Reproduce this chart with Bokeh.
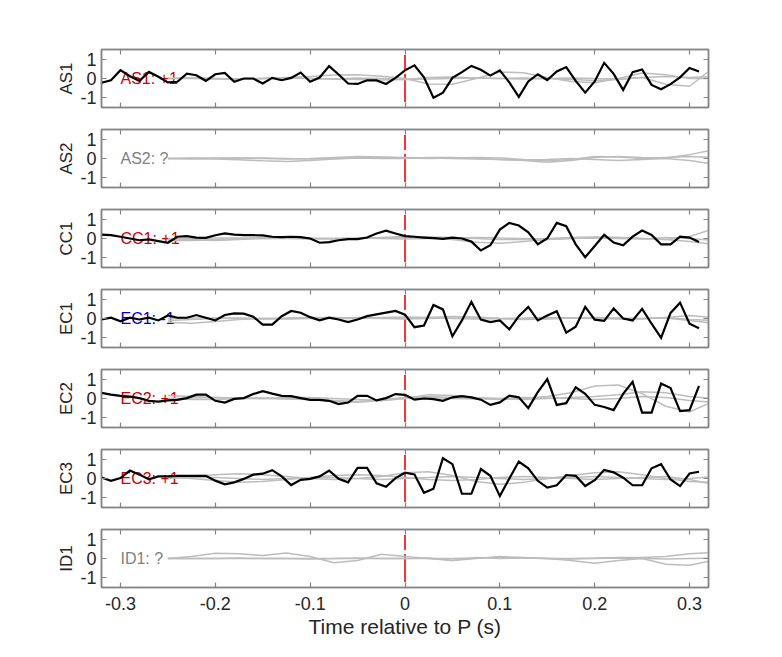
import numpy as np
from bokeh.plotting import figure
from bokeh.layouts import column
from bokeh.models import LinearAxis, FixedTicker, Range1d
from bokeh.core.properties import value
from bokeh.embed import file_html
from bokeh.resources import INLINE

# ---------------- data ----------------
stations = ["AS1", "AS2", "CC1", "EC1", "EC2", "EC3", "ID1"]
polarity_text = ["AS1: +1", "AS2: ?", "CC1: +1", "EC1: -1", "EC2: +1", "EC3: +1", "ID1: ?"]
polarity_color = ["#cc0000", "#808080", "#cc0000", "#0000cc", "#cc0000", "#cc0000", "#808080"]

x_ticks = [-0.3, -0.2, -0.1, 0.0, 0.1, 0.2, 0.3]
x_tick_labels = ["-0.3", "-0.2", "-0.1", "0", "0.1", "0.2", "0.3"]
y_ticks = [-1, 0, 1]
y_tick_labels = ["-1", "0", "1"]

p_time = 0.0          # P arrival
label_time = -0.3     # where the polarity text starts
marker_half = 1.22    # half height of the P marker

# sample times
t_black = np.round(-0.32 + 0.01 * np.arange(64), 2)
t_gray = np.round(-0.25 + 0.025 * np.arange(24), 3)

as1_black = [-0.22, -0.09, 0.43, 0.12, -0.12, 0.34, 0.09, -0.2, -0.17, 0.25,
             0.17, -0.12, 0.22, 0.29, -0.17, 0.0, 0.0, -0.26, 0.03, -0.09,
             0.03, 0.31, -0.17, 0.05, 0.64, 0.21, -0.26, -0.28, -0.09, -0.1,
             -0.28, 0.03, 0.42, 0.68, 0.06, -1.0, -0.73, 0.03, 0.33, 0.65,
             0.45, 0.15, 0.42, -0.2, -0.95, -0.15, 0.22, -0.08, 0.36, 0.59,
             -0.12, -0.73, -0.15, 0.81, 0.24, -0.59, 0.33, 0.47, -0.33, -0.56,
             -0.29, 0.06, 0.54, 0.36]
cc1_black = [0.2, 0.17, 0.09, 0.0, -0.09, -0.05, -0.14, -0.22, 0.09, 0.12,
             0.05, 0.03, 0.17, 0.26, 0.2, 0.17, 0.17, 0.16, 0.09, 0.07,
             0.09, 0.07, 0.0, -0.22, -0.19, -0.09, -0.03, -0.03, 0.05, 0.26,
             0.4, 0.26, 0.12, 0.09, 0.05, 0.02, -0.02, 0.04, 0.0, -0.16,
             -0.62, -0.35, 0.46, 0.81, 0.67, 0.32, -0.3, 0.0, 0.81, 0.64,
             -0.3, -0.97, -0.39, 0.19, -0.21, -0.35, 0.1, 0.41, 0.18, -0.3,
             -0.3, 0.1, 0.05, -0.18]
ec1_black = [-0.05, 0.04, -0.14, 0.04, -0.05, 0.04, -0.1, 0.16, 0.04, 0.04,
             0.18, 0.04, -0.1, 0.18, 0.26, 0.25, 0.09, -0.32, -0.32, 0.12,
             0.39, 0.3, 0.07, -0.09, 0.04, -0.05, -0.19, -0.05, 0.12, 0.21,
             0.3, 0.39, 0.2, -0.45, -0.36, 0.7, 0.47, -0.92, -0.1, 0.86,
             -0.06, -0.19, -0.1, -0.56, 0.12, 0.6, -0.1, 0.15, 0.38, -0.73,
             -0.42, 0.6, -0.06, -0.12, 0.52, 0.0, -0.1, 0.5, -0.27, -1.0,
             0.29, 0.82, -0.27, -0.5]
ec2_black = [0.29, 0.2, 0.14, 0.1, 0.02, -0.12, -0.16, -0.1, -0.07, 0.02,
             0.2, 0.2, -0.12, -0.21, -0.02, 0.02, 0.23, 0.38, 0.25, 0.14,
             0.12, 0.02, -0.07, -0.07, -0.12, -0.29, -0.21, 0.14, 0.14, -0.1,
             0.02, 0.23, 0.19, -0.06, 0.0, -0.03, -0.12, 0.06, 0.12, 0.06,
             -0.06, -0.33, -0.2, 0.15, 0.06, -0.5, 0.33, 1.0, -0.33, -0.24,
             0.58, 0.24, -0.33, -0.44, -0.6, 0.24, 0.86, -0.73, -0.73, 0.77,
             0.54, -0.65, -0.6, 0.65]
ec3_black = [0.05, -0.12, 0.02, 0.41, 0.2, -0.04, 0.11, 0.11, 0.14, 0.14,
             0.14, 0.14, -0.11, -0.3, -0.2, -0.02, 0.2, 0.25, 0.43, 0.11,
             -0.34, -0.07, -0.02, 0.11, 0.41, -0.02, -0.2, 0.55, 0.55, -0.25,
             -0.43, 0.02, 0.3, 0.21, -0.74, -0.53, 1.05, 0.74, -0.79, -0.79,
             0.49, 0.14, -0.91, 0.0, 0.88, 0.53, -0.12, -0.47, -0.35, 0.18,
             0.14, -0.39, -0.09, 0.44, 0.32, 0.04, -0.35, -0.35, 0.53, 0.74,
             -0.05, -0.39, 0.26, 0.35]

# gray reference traces (sampled every 0.025 s from -0.25 s)
as1_gray1 = [0, 0, -0.03, -0.05, 0, 0.05, 0.1, 0.18, 0.2, 0.12, 0, -0.28, -0.3, 0.0,
             0.33, 0.3, 0.05, -0.15, -0.22, 0.0, 0.28, 0.2, 0.0, 0.0]
as1_gray2 = [0, 0.02, 0, -0.02, 0, 0.02, 0, -0.02, 0.03, 0.0, -0.05, -0.02, 0, 0.02,
             0, -0.02, 0, 0.03, 0, -0.02, 0.05, -0.3, -0.4, 0.55]
as1_gray3 = [0, 0.03, 0, -0.03, 0, 0.03, 0, -0.03, -0.05, -0.08, -0.05, 0.05, 0.08, 0.03,
             0, 0.03, 0, -0.05, -0.1, -0.05, 0.05, 0.1, 0.05, 0.1]
as2_gray1 = [0, 0, -0.02, -0.06, -0.12, -0.15, -0.1, -0.03, 0.03, 0.06, 0.05, 0.02,
             0.0, -0.03, -0.05, -0.1, -0.2, -0.1, 0.05, 0.1, 0.05, 0.02, 0.2, 0.45]
as2_gray2 = [0, 0.02, 0.03, 0.02, 0, -0.02, 0, 0.05, 0.1, 0.08, 0.03, 0, 0.02, 0.05,
             0.03, -0.05, -0.12, -0.05, 0.1, 0.08, 0, 0.05, 0.1, 0.05]
as2_gray3 = [0, -0.02, 0, 0.02, 0.03, 0, -0.03, 0, 0.02, 0, 0, 0.05, 0.05, 0, -0.05,
             -0.08, -0.05, 0, -0.05, -0.1, -0.05, 0, -0.1, -0.3]
cc1_gray1 = [-0.1, -0.1, -0.05, 0, 0.05, 0.05, 0.02, 0, 0, 0.05, 0.1, 0.05, -0.05,
             -0.2, -0.25, -0.15, -0.05, 0, 0.05, 0.05, 0, -0.05, 0.1, 0.5]
cc1_gray2 = [0, -0.05, -0.1, -0.05, 0, 0.02, 0, -0.03, 0, 0.03, 0.05, 0.08, 0.05, 0,
             -0.05, -0.05, 0, 0.05, 0.08, 0.05, 0, -0.05, -0.15, -0.3]
cc1_gray3 = [-0.05, 0, 0.03, 0.02, 0, 0, -0.02, 0, 0.02, 0, -0.02, 0, 0.02, 0.05,
             0.02, 0, -0.02, 0, 0.02, 0, -0.02, 0.05, 0, -0.1]
ec1_gray1 = [-0.2, -0.25, -0.15, -0.05, 0, 0.02, 0.05, 0.05, 0.02, 0, 0, 0.05, 0.1,
             0.08, 0, -0.05, -0.02, 0.02, 0.05, 0.03, 0, 0.02, -0.1, -0.25]
ec1_gray2 = [-0.1, -0.05, 0, 0.03, 0, -0.03, 0, 0.03, 0.05, 0.02, -0.02, 0, 0.02,
             0.03, 0, -0.02, 0, 0.02, 0, -0.02, 0, 0.05, -0.05, -0.1]
ec1_gray3 = [0, 0.02, 0.03, 0, -0.02, 0, 0.02, 0, 0, 0.05, 0.08, 0.05, 0, -0.03, 0,
             0.02, 0.05, 0.03, 0.02, 0, -0.03, 0.05, 0.15, 0.05]
ec2_gray1 = [0, 0.02, 0.05, 0.03, 0, -0.03, -0.05, -0.1, -0.15, -0.05, 0.05, 0.1,
             0.05, 0, -0.05, 0, 0.1, 0.3, 0.65, 0.7, 0.25, -0.4, -0.7, -0.15]
ec2_gray2 = [0.15, 0.1, 0.05, 0, 0, 0.05, 0.05, 0, -0.05, -0.1, 0, 0.2, 0.15, 0.05,
             0, -0.05, 0, 0.05, 0.1, 0.2, 0.35, 0.3, 0.1, 0]
ec2_gray3 = [0, -0.05, -0.05, 0, 0.02, 0, -0.05, -0.15, -0.2, -0.1, 0, 0.05, 0,
             -0.02, 0, 0.05, 0.02, 0, -0.05, 0, 0.1, 0.05, -0.1, -0.2]
ec3_gray1 = [0.05, 0.1, 0.2, 0.25, 0.2, 0.1, 0, -0.05, 0, 0.1, 0.3, 0.35, 0.15, -0.15,
             -0.3, -0.2, 0, 0.15, 0.3, 0.35, 0.2, 0, -0.15, -0.2]
ec3_gray2 = [0.1, 0, -0.1, -0.2, -0.15, -0.05, 0.05, 0.15, 0.2, 0.15, 0.05, -0.05,
             -0.1, -0.05, 0.05, 0.1, 0.05, 0, -0.05, 0, 0.05, 0.1, -0.05, -0.3]
ec3_gray3 = [0, 0.05, 0.05, 0, -0.05, 0, 0.05, 0.05, 0, -0.05, 0, 0.05, 0.1, 0.05, 0,
             -0.05, 0, 0.05, 0.1, 0.05, 0, -0.05, 0, 0.1]
id1_gray1 = [0, 0.1, 0.27, 0.25, 0.15, 0.28, 0.1, -0.22, -0.1, 0.22, 0.1, 0, -0.1,
             0.05, 0, 0.02, 0, -0.02, 0, 0.02, 0, -0.02, 0, 0.02]
id1_gray2 = [0, 0, 0, 0.02, 0, 0, -0.02, 0, 0.03, 0, 0, 0.02, -0.1, 0, 0.1, 0.05, 0,
             -0.1, -0.25, -0.1, 0, -0.3, -0.35, -0.1]
id1_gray3 = [0, 0, 0, 0, 0, 0, 0, 0, 0, 0, 0, 0, 0, 0.03, 0.05, 0.03, 0, 0, 0.02,
             0.05, 0.05, 0.1, 0.25, 0.3]

black_traces = {"AS1": as1_black, "AS2": None, "CC1": cc1_black, "EC1": ec1_black,
                "EC2": ec2_black, "EC3": ec3_black, "ID1": None}
gray_traces = {
    "AS1": [as1_gray1, as1_gray2, as1_gray3],
    "AS2": [as2_gray1, as2_gray2, as2_gray3],
    "CC1": [cc1_gray1, cc1_gray2, cc1_gray3],
    "EC1": [ec1_gray1, ec1_gray2, ec1_gray3],
    "EC2": [ec2_gray1, ec2_gray2, ec2_gray3],
    "EC3": [ec3_gray1, ec3_gray2, ec3_gray3],
    "ID1": [id1_gray1, id1_gray2, id1_gray3],
}

# ---------------- style ----------------
FONT = "Liberation Sans"
AX = "#868686"
TXT = "#262626"


def style_axis(ax, ticks, labels, show_labels):
    ax.ticker = FixedTicker(ticks=ticks)
    ax.major_tick_in = 5
    ax.major_tick_out = 0
    ax.minor_tick_line_color = None
    ax.axis_line_color = AX
    ax.axis_line_width = 1.5
    ax.major_tick_line_color = AX
    ax.major_tick_line_width = 1.2
    ax.major_label_text_font = FONT
    if show_labels:
        ax.major_label_overrides = {t: l for t, l in zip(ticks, labels)}
        ax.major_label_text_color = TXT
        ax.major_label_text_font_size = "18px"
        ax.major_label_standoff = 5
    else:
        ax.major_label_text_color = None
        ax.major_label_text_font_size = "1px"
        ax.major_label_standoff = 0


figs = []
n = len(stations)
for i, st in enumerate(stations):
    first = i == 0
    last = i == n - 1
    p = figure(frame_width=607, frame_height=58,
               x_range=Range1d(-0.32, 0.32), y_range=Range1d(-1.5, 1.5),
               output_backend="svg", toolbar_location=None,
               min_border_left=101, min_border_right=40,
               min_border_top=49 if first else 11,
               min_border_bottom=64 if last else 11)
    p.grid.visible = False
    p.outline_line_color = AX
    p.outline_line_width = 1.5
    p.background_fill_color = "white"
    p.border_fill_color = "white"

    style_axis(p.xaxis[0], x_ticks, x_tick_labels, last)
    style_axis(p.yaxis[0], y_ticks, y_tick_labels, True)
    p.yaxis[0].axis_label = st
    p.yaxis[0].axis_label_text_font = FONT
    p.yaxis[0].axis_label_text_font_size = "17px"
    p.yaxis[0].axis_label_text_font_style = "normal"
    p.yaxis[0].axis_label_text_color = TXT
    p.yaxis[0].axis_label_standoff = 1
    if last:
        xa = p.xaxis[0]
        xa.major_label_standoff = 9
        xa.axis_label = "Time relative to P (s)"
        xa.axis_label_text_font = FONT
        xa.axis_label_text_font_size = "21px"
        xa.axis_label_text_font_style = "normal"
        xa.axis_label_text_color = TXT
        xa.axis_label_standoff = 2

    top_ax = LinearAxis()
    style_axis(top_ax, x_ticks, x_tick_labels, False)
    p.add_layout(top_ax, "above")
    right_ax = LinearAxis()
    style_axis(right_ax, y_ticks, y_tick_labels, False)
    p.add_layout(right_ax, "right")

    # P marker
    p.segment(x0=[p_time], y0=[marker_half], x1=[p_time], y1=[-marker_half],
              line_color="#ff3333", line_width=2, line_dash="15 4 28")
    # polarity label
    p.text(x=[label_time], y=[0], text=[polarity_text[i]],
           text_color=polarity_color[i], text_font=value(FONT),
           text_font_size="16px", text_baseline="middle", text_align="left")
    for g in gray_traces[st]:
        p.line(t_gray, g, line_color="#bdbdbd", line_width=1.5)
    if black_traces[st] is not None:
        p.line(t_black, black_traces[st], line_color="black", line_width=2.2,
               line_join="miter")
    figs.append(p)

layout = column(*figs, spacing=0)
open("out.html", "w").write(file_html(layout, INLINE))
